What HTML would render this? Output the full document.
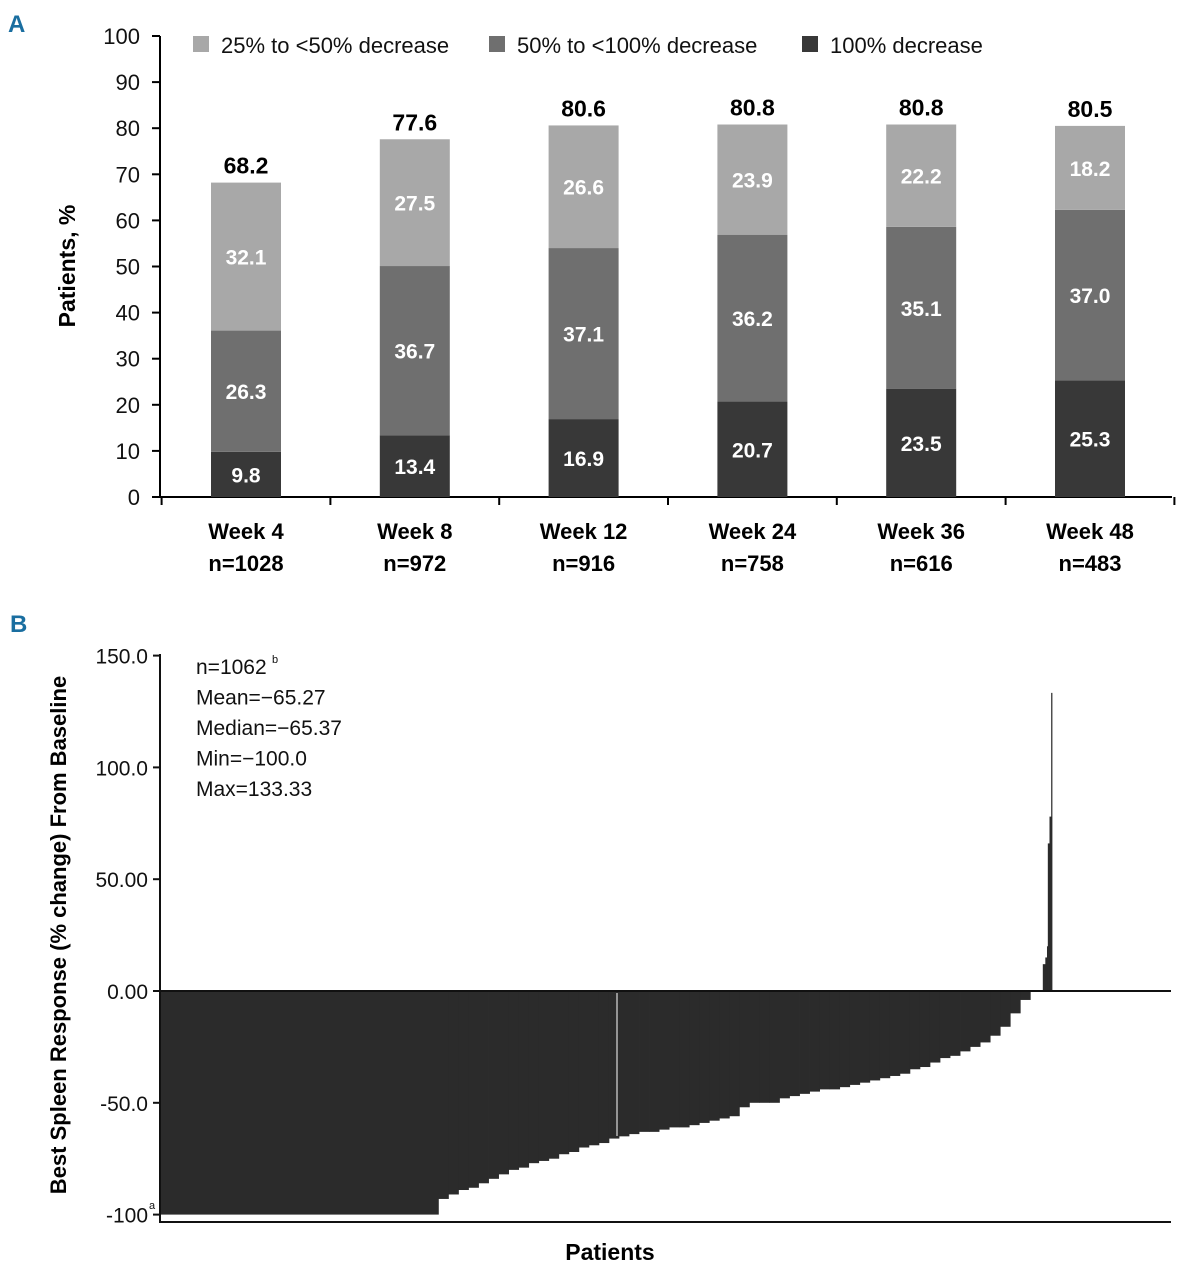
<!DOCTYPE html>
<html><head><meta charset="utf-8">
<style>
html,body{margin:0;padding:0;background:#fff;}
svg{display:block;font-family:"Liberation Sans Narrow","Liberation Sans",sans-serif;}
</style></head>
<body>
<svg id="chart" width="1181" height="1280" viewBox="0 0 1181 1280" xmlns="http://www.w3.org/2000/svg">
<text x="8" y="32" font-size="24" font-weight="bold" fill="#1a6ea0">A</text>
<text x="10" y="632" font-size="24" font-weight="bold" fill="#1a6ea0">B</text>
<g id="panelA"></g>
<g id="panelB"></g>
</svg>
<script>
// ---------- Panel A data ----------
const weeks = ["Week 4","Week 8","Week 12","Week 24","Week 36","Week 48"];
const nLabels = ["n=1028","n=972","n=916","n=758","n=616","n=483"];
const complete = [9.8,13.4,16.9,20.7,23.5,25.3];
const major = [26.3,36.7,37.1,36.2,35.1,37.0];
const minor = [32.1,27.5,26.6,23.9,22.2,18.2];
const totals = [68.2,77.6,80.6,80.8,80.8,80.5];
const yTicksA = [0,10,20,30,40,50,60,70,80,90,100];
const legendLabels = ["25% to <50% decrease","50% to <100% decrease","100% decrease"];

// ---------- Panel B data ----------
const groupValues = [-100,
 -93,-91,-89,-88,-86,-84,-82,-80,
 -79,-77,-76,-75,-73,-72,-70,
 -69,-68,-66,-65,-64,-63,
 -63,-62,-61,-61,-60,
 -59,-58,-57,-56,
 -52,-50,-50,-50,
 -48,-47,-46,-45,-44,-44,-43,
 -42,-41,-40,-39,-38,
 -37,-35,-34,-32,-30,
 -29,-27,-25,-23,-20,
 -16,-10,-4,
 0, 12,15,20,66,78,133.33];
const groupCounts = [333,
 12,12,12,12,12,12,12,12,
 12,12,12,12,12,12,12,
 12,12,12,12,12,12,
 12,12,12,12,12,
 12,12,12,12,
 12,12,12,12,
 12,12,12,12,12,12,12,
 12,12,12,12,12,
 12,12,12,12,12,
 12,12,12,12,12,
 12,12,12,
 15, 3,2,1,2,2,1];
const yTicksB = [150,100,50,0,-50,-100];
const yTickLabelsB = ["150.0","100.0","50.00","0.00","-50.0","-100"];
const statsLines = ["n=1062","Mean=\u221265.27","Median=\u221265.37","Min=\u2212100.0","Max=133.33"];

const NS="http://www.w3.org/2000/svg";
function mk(parent,tag,attrs,text){const e=document.createElementNS(NS,tag);for(const k in attrs)e.setAttribute(k,attrs[k]);if(text!==undefined)e.textContent=text;parent.appendChild(e);return e;}

// ===== Panel A =====
const A=document.getElementById('panelA');
const ayScale=v=>497-v*4.61;
const axScale=i=>246+i*168.8;
const barW=70;
const colLight="#a8a8a8",colMid="#6f6f6f",colDark="#383838";
let e;
e=mk(A,'line',{x1:160,y1:36,x2:160,y2:497,stroke:"#000","stroke-width":2});


e=mk(A,'line',{x1:152,y1:497,x2:1172,y2:497,stroke:"#000","stroke-width":2});


yTicksA.forEach(t=>{
  const y=ayScale(t);
  e=mk(A,'line',{x1:152,y1:y,x2:160,y2:y,stroke:"#000","stroke-width":2});
  
  
  e=mk(A,'text',{x:140,y:y+8,"font-size":22,"text-anchor":"end",fill:"#111"},String(t));
  
  
});
for(let i=0;i<=weeks.length;i++){
  const x=axScale(i)-84.4;
  e=mk(A,'line',{x1:x,y1:497,x2:x,y2:505,stroke:"#000","stroke-width":2});
  
  
}
e=mk(A,'text',{x:0,y:0,"font-size":23,"font-weight":"bold","text-anchor":"middle",transform:"translate(75,266) rotate(-90)"},"Patients, %");


weeks.forEach((w,i)=>{
  const cx=axScale(i);
  const segs=[[0,complete[i],colDark,'bar-complete'],[complete[i],complete[i]+major[i],colMid,'bar-major'],[complete[i]+major[i],totals[i],colLight,'bar-minor']];
  const vals=[complete[i],major[i],minor[i]];
  segs.forEach((s,k)=>{
    const y0=ayScale(s[1]),y1=ayScale(s[0]);
    e=mk(A,'rect',{x:cx-barW/2,y:y0,width:barW,height:y1-y0,fill:s[2]});
    
    
    e=mk(A,'text',{x:cx,y:(y0+y1)/2+8,"font-size":21,"font-weight":"bold","text-anchor":"middle",fill:"#fff"},vals[k].toFixed(1));
    
    
  });
  e=mk(A,'text',{x:cx,y:ayScale(totals[i])-9,"font-size":23,"font-weight":"bold","text-anchor":"middle",fill:"#000"},totals[i].toFixed(1));
  
  
  e=mk(A,'text',{x:cx,y:539,"font-size":22,"font-weight":"bold","text-anchor":"middle"},w);
  
  
  e=mk(A,'text',{x:cx,y:571,"font-size":22,"font-weight":"bold","text-anchor":"middle"},nLabels[i]);
  
  
});
const legX=[193,489,802],legC=[colLight,colMid,colDark];
legendLabels.forEach((l,i)=>{
  e=mk(A,'rect',{x:legX[i],y:36,width:16,height:16,fill:legC[i]});
  
  
  e=mk(A,'text',{x:legX[i]+28,y:53,"font-size":22,fill:"#111"},l);
  
  
});

// ===== Panel B =====
const B=document.getElementById('panelB');
const byScale=v=>991-v*2.236;
const totalPatients=groupCounts.reduce((a,b)=>a+b,0);
const bx0=160,bDataW=892;
const bxScale=c=>bx0+c*bDataW/totalPatients;
let cum=0;
groupValues.forEach((v,i)=>{
  const x0=bxScale(cum),x1=bxScale(cum+groupCounts[i]);
  cum+=groupCounts[i];
  if(v===0)return;
  const ya=byScale(Math.max(v,0)),yb=byScale(Math.min(v,0));
  e=mk(B,'rect',{x:x0,y:ya,width:x1-x0+0.4,height:yb-ya,fill:"#2b2b2b"});
  
  
});
e=mk(B,'line',{x1:617,y1:993,x2:617,y2:1136,stroke:"#fff","stroke-width":1});


e=mk(B,'line',{x1:160,y1:991,x2:1171,y2:991,stroke:"#111","stroke-width":2});


e=mk(B,'line',{x1:160,y1:654,x2:160,y2:1223,stroke:"#111","stroke-width":2});


e=mk(B,'line',{x1:159,y1:1222,x2:1171,y2:1222,stroke:"#111","stroke-width":2});


yTicksB.forEach((t,i)=>{
  const y=byScale(t);
  e=mk(B,'line',{x1:153,y1:y,x2:160,y2:y,stroke:"#111","stroke-width":2});
  
  
  e=mk(B,'text',{x:148,y:y+8,"font-size":21,"text-anchor":"end",fill:"#111"},yTickLabelsB[i]);
  
  
});
e=mk(B,'text',{x:149,y:1209,"font-size":11,fill:"#111"},"a");


statsLines.forEach((s,i)=>{
  e=mk(B,'text',{x:196,y:674+i*30.5,"font-size":21,fill:"#111"},s);
  
  
});
e=mk(B,'text',{x:272,y:663,"font-size":11,fill:"#111"},"b");


e=mk(B,'text',{x:0,y:0,"font-size":22,"font-weight":"bold","text-anchor":"middle",transform:"translate(66,935) rotate(-90)"},"Best Spleen Response (% change) From Baseline");


e=mk(B,'text',{x:610,y:1260,"font-size":23,"font-weight":"bold","text-anchor":"middle"},"Patients");


</script>
</body></html>
